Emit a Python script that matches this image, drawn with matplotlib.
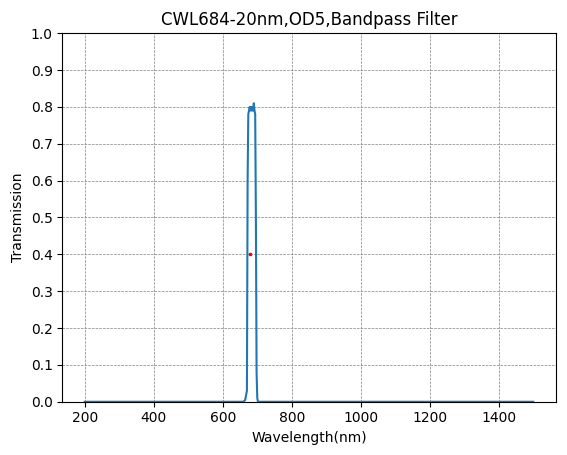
import matplotlib.pyplot as plt

# spectrum points
wavelength = [200, 600, 660, 665, 668, 670, 672, 674, 676, 678, 680, 682, 684, 686, 688, 690, 692, 694, 696, 698, 700, 702, 800, 1500]
transmission = [0.0, 0.0, 0.0, 0.005, 0.02, 0.03, 0.60, 0.78, 0.79, 0.80, 0.79, 0.80, 0.79, 0.80, 0.79, 0.81, 0.79, 0.78, 0.50, 0.08, 0.01, 0.0, 0.0, 0.0]
marker_x = [680]
marker_y = [0.4]

fig = plt.figure(figsize=(5.67, 4.55), dpi=100)
ax = fig.add_subplot(111)
ax.plot(wavelength, transmission)
ax.plot(marker_x, marker_y, 's', color='red', markersize=2)
ax.set_ylim(0, 1)
ax.set_yticks([i / 10 for i in range(11)])
ax.set_xticks([200, 400, 600, 800, 1000, 1200, 1400])
ax.grid(True, linestyle='--', color='gray', linewidth=0.5)
ax.set_xlabel('Wavelength(nm)')
ax.set_ylabel('Transmission')
ax.set_title('CWL684-20nm,OD5,Bandpass Filter')
fig.subplots_adjust(left=0.11, right=0.98, top=0.927, bottom=0.117)
fig.savefig('out.png')
